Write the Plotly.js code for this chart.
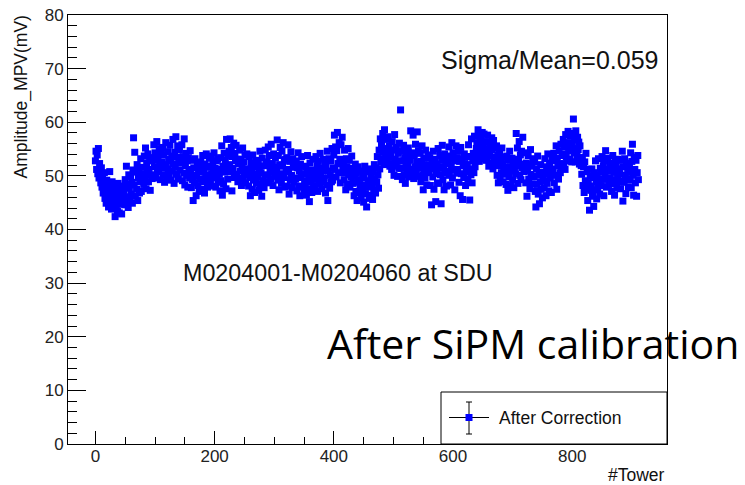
<!DOCTYPE html>
<html>
<head>
<meta charset="utf-8">
<script src="https://cdn.plot.ly/plotly-3.0.1.min.js"></script>
<style>html,body{margin:0;padding:0;background:#fff;}#chart{width:745px;height:485px;}</style>
</head>
<body>
<div id="chart"></div>
<script>
// Amplitude MPV (mV) per tower, tower index = position in array (0..911)
const amplitudeMPV = [
52.8,54.6,51.2,53.9,50.4,55.1,49.6,52.3,50.9,48.7,51.5,47.9,49.8,46.8,48.2,50.6,
45.8,47.6,44.9,49.2,46.3,48.4,44.2,46.9,50.8,45.1,47.3,43.8,48.9,46.1,44.6,47.8,
45.2,42.4,47.1,44.3,46.8,43.5,48.6,45.9,43.1,47.7,44.8,46.2,42.9,48.1,45.4,46.9,
47.2,44.6,49.3,46.1,51.8,45.3,48.4,44.1,50.2,47.7,45.8,49.9,46.6,48.8,44.9,51.1,
57.1,48.3,54.4,46.2,50.7,47.5,52.1,45.4,49.6,51.3,46.8,48.9,53.2,47.1,50.4,49.2,
51.6,48.4,53.7,49.9,55.2,47.6,52.4,50.8,54.1,48.9,51.2,53.3,47.3,50.1,52.8,49.5,
53.4,50.2,55.8,51.7,54.3,49.6,52.9,56.4,51.1,53.8,50.7,55.1,52.2,49.3,54.6,51.9,
52.6,55.3,50.1,53.9,48.8,51.4,56.2,52.1,49.7,54.5,51.3,53.1,50.4,55.7,52.8,49.2,
53.7,50.9,56.8,52.2,48.6,54.4,51.6,57.3,50.3,53.5,55.6,49.4,52.7,54.9,51.1,53.2,
52.4,55.8,49.1,53.6,50.5,56.9,48.3,51.9,54.2,50.1,52.8,47.9,53.4,51.2,49.6,54.7,
50.6,47.8,52.9,49.3,45.4,51.5,48.7,53.2,50.1,46.3,49.9,52.1,48.2,50.8,47.1,51.7,
49.4,52.6,47.5,51.3,53.8,48.9,50.7,46.8,52.2,49.8,54.1,50.2,47.9,51.6,49.1,53.3,
51.8,49.2,53.7,50.4,48.1,52.5,50.9,54.3,49.6,51.4,47.9,52.8,50.1,53.1,48.8,51.2,
50.3,47.2,53.4,49.1,55.6,46.4,51.8,48.5,54.2,50.7,52.9,47.6,56.8,51.1,49.4,53.7,
54.6,52.1,56.9,50.8,55.3,47.2,53.6,51.4,56.1,49.7,54.2,52.8,55.7,50.3,53.1,48.9,
52.3,49.6,54.8,50.9,53.1,48.2,51.7,55.2,49.4,52.6,50.2,53.9,48.7,51.3,54.1,50.5,
51.2,48.1,53.6,49.7,46.3,52.4,50.8,47.5,53.9,49.2,51.6,46.9,50.3,52.7,48.6,51.8,
49.8,52.9,47.3,51.1,54.6,48.4,50.6,46.2,53.3,49.1,51.9,47.8,50.2,54.8,48.9,52.4,
52.6,50.1,55.4,48.7,53.8,51.2,49.5,55.9,50.8,52.3,48.2,54.1,51.6,49.9,53.4,50.6,
51.3,56.7,49.2,53.8,47.4,52.1,55.3,50.4,48.6,54.6,51.8,56.2,49.7,52.9,47.9,53.1,
50.7,53.4,48.1,55.8,51.2,46.6,52.7,49.3,54.5,50.1,47.8,53.2,51.6,48.9,52.3,49.6,
49.4,52.8,47.2,51.5,54.3,48.1,50.9,46.3,52.2,49.7,53.6,47.9,50.4,51.8,46.8,49.1,
48.3,51.7,46.4,50.6,53.8,47.5,49.9,45.2,52.4,48.8,51.1,46.9,50.2,53.1,47.7,49.5,
50.8,48.2,53.6,49.4,51.9,47.1,52.7,50.3,48.6,54.2,49.8,51.4,47.6,50.9,53.1,48.9,
49.6,52.4,46.8,51.7,48.3,54.6,45.4,50.9,53.2,47.7,50.1,52.8,48.9,55.1,49.2,51.5,
53.9,57.6,51.2,55.4,49.8,54.7,58.1,52.3,50.6,56.2,53.1,48.7,55.8,52.6,57.2,51.4,
52.1,49.3,54.8,50.6,47.4,53.2,51.7,48.5,55.1,50.2,52.9,47.9,51.3,49.8,53.7,50.4,
48.6,51.4,46.3,49.9,52.2,47.1,50.5,45.4,48.8,51.7,46.9,49.3,47.8,50.9,45.9,48.2,
47.4,50.2,45.1,49.6,51.8,46.7,48.3,44.2,50.8,47.9,49.1,45.8,51.3,48.6,46.4,49.8,
48.2,45.6,50.7,47.3,52.1,49.4,46.8,51.5,48.9,53.6,50.2,47.7,54.8,51.3,56.9,52.6,
55.8,53.2,57.9,54.4,52.1,58.6,55.1,53.7,56.8,52.9,54.9,57.3,53.5,55.6,51.8,54.2,
53.6,51.2,56.4,52.3,54.8,50.1,57.7,53.1,51.8,55.3,52.7,49.9,54.2,51.4,56.1,52.8,
62.3,51.4,54.6,49.3,52.8,55.7,50.2,53.4,48.6,51.9,54.1,50.7,52.4,55.2,49.8,53.1,
52.9,58.4,50.6,54.3,51.2,57.6,49.5,53.8,51.7,55.9,50.3,52.6,58.2,51.4,54.7,49.9,
51.8,54.2,48.9,52.7,55.6,50.1,47.4,53.3,51.2,49.6,54.8,52.1,48.3,50.7,53.9,51.5,
50.6,53.4,48.2,51.9,44.6,52.7,49.8,54.6,47.5,51.3,53.1,45.2,50.4,52.2,48.7,55.1,
51.4,48.6,53.8,50.2,44.8,52.9,55.7,49.3,51.7,47.4,54.1,50.6,52.3,48.1,53.5,50.9,
52.6,55.4,50.1,53.7,48.3,51.9,56.2,49.6,54.3,51.2,53.1,47.4,52.8,55.6,50.5,53.4,
51.2,54.6,48.8,52.7,46.3,55.3,50.4,53.2,45.6,51.9,49.7,54.1,52.3,48.2,50.8,53.6,
52.1,49.4,55.8,51.3,45.5,53.6,50.2,56.9,48.7,52.8,54.2,50.6,57.4,51.7,53.3,55.1,
56.2,54.1,58.6,55.3,52.7,57.4,54.8,56.9,53.2,58.1,55.7,53.9,57.8,54.5,56.4,52.9,
55.1,53.2,57.6,54.4,51.8,56.3,53.7,55.8,52.4,57.1,54.9,51.3,56.6,53.5,55.2,52.7,
52.4,55.6,50.1,53.8,48.7,51.9,54.7,49.8,53.1,50.6,55.2,52.3,48.9,51.6,53.5,50.3,
51.2,48.4,53.7,50.6,47.3,52.9,49.8,54.6,51.7,48.1,50.9,53.3,49.2,52.1,47.8,51.5,
53.1,50.4,57.9,51.8,55.2,48.6,52.7,56.4,50.1,53.9,49.3,54.6,51.5,57.2,52.2,50.8,
51.6,54.3,48.7,52.4,46.2,50.9,53.8,49.4,52.1,47.6,54.9,50.3,51.8,48.5,53.2,49.9,
49.8,52.6,47.1,44.2,51.3,48.4,53.7,46.6,50.2,44.8,48.9,52.1,47.5,50.7,45.9,49.3,
50.4,47.8,53.2,49.1,46.3,51.7,48.6,54.1,50.8,47.2,52.4,49.6,51.1,46.9,53.6,50.2,
51.3,54.2,48.7,52.8,50.1,55.6,47.5,53.3,51.9,49.4,54.7,52.2,50.6,55.9,51.4,53.8,
54.1,56.8,52.3,55.4,51.2,57.7,53.6,55.9,52.8,58.3,54.7,56.2,53.1,57.4,55.3,52.6,
55.8,57.9,60.6,54.3,56.7,52.6,58.4,55.1,53.7,57.2,54.9,56.3,52.2,55.6,53.4,51.9,
50.3,53.4,48.2,51.7,46.9,52.6,49.1,54.2,47.6,50.8,45.4,48.7,51.2,43.6,49.9,47.3,
48.1,51.3,46.2,49.7,44.3,50.6,47.4,52.8,48.9,45.7,50.1,47.8,53.2,49.2,46.6,51.4,
50.7,48.2,53.6,49.4,51.9,46.3,52.8,50.1,54.7,47.9,51.2,49.6,53.3,48.4,50.9,52.2,
49.6,52.3,47.1,51.4,53.8,48.5,50.7,46.4,52.6,49.2,51.8,47.7,50.2,53.1,48.9,51.3,
50.4,47.6,52.9,49.1,54.6,45.3,51.7,48.8,53.2,50.1,46.7,52.4,49.5,51.2,47.9,50.8,
51.6,49.2,54.3,47.8,52.7,55.9,50.1,46.4,53.5,51.2,48.7,52.9,46.2,50.6,53.8,49.3
];
const towerIds = amplitudeMPV.map((_, i) => i);

const xTickValues = [0, 200, 400, 600, 800];
const yTickValues = [0, 10, 20, 30, 40, 50, 60, 70, 80];

const seriesName = "After Correction";
const xTitle = "#Tower";
const yTitle = "Amplitude_MPV(mV)";
const statText = "Sigma/Mean=0.059";
const rangeText = "M0204001-M0204060 at SDU";
const overlayText = "After SiPM calibration";

// plot area in pixels
const L = 68, R = 667, T = 15, B = 444;
const px = x => (x - L) / (R - L);
const py = y => (B - y) / (B - T);

const FONT = "Liberation Sans, Arial, sans-serif";
const BLUE = "#0000ff";

const trace = {
  x: towerIds, y: amplitudeMPV, type: "scatter", mode: "markers", name: seriesName,
  marker: {symbol: "square", size: 7, color: BLUE, line: {width: 0}},
  showlegend: false, cliponaxis: true
};

const layout = {
  width: 745, height: 485,
  margin: {l: L, r: 745 - R, t: T, b: 485 - B, pad: 0},
  paper_bgcolor: "#fff", plot_bgcolor: "#fff",
  showlegend: false,
  xaxis: {
    range: [-46, 959], tickvals: xTickValues, ticktext: xTickValues.map(String),
    ticks: "inside", ticklen: 13, tickcolor: "#000", tickwidth: 1, ticklabelstandoff: -3,
    minor: {ticks: "inside", ticklen: 7, dtick: 50, tick0: 0, tickcolor: "#000", showgrid: false},
    showgrid: false, zeroline: false, showline: true, mirror: true, linecolor: "#000", linewidth: 1,
    tickfont: {family: FONT, size: 17, color: "#222"}
  },
  yaxis: {
    range: [0, 80], tickvals: yTickValues, ticktext: yTickValues.map(String),
    ticks: "inside", ticklen: 18, tickcolor: "#000", tickwidth: 1,
    minor: {ticks: "inside", ticklen: 9, dtick: 2, tick0: 0, tickcolor: "#000", showgrid: false},
    showgrid: false, zeroline: false, showline: true, mirror: true, linecolor: "#000", linewidth: 1,
    tickfont: {family: FONT, size: 17, color: "#222"}
  },
  shapes: [
    {type: "rect", xref: "paper", yref: "paper", x0: px(441), x1: px(667), y0: py(444), y1: py(392),
     line: {color: "#000", width: 1}, fillcolor: "#fff", layer: "above"},
    {type: "line", xref: "paper", yref: "paper", x0: px(449), x1: px(489), y0: py(417.5), y1: py(417.5),
     line: {color: "#000", width: 1}},
    {type: "line", xref: "paper", yref: "paper", x0: px(469), x1: px(469), y0: py(402), y1: py(434),
     line: {color: "#000", width: 1}},
    {type: "line", xref: "paper", yref: "paper", x0: px(466), x1: px(472), y0: py(402), y1: py(402),
     line: {color: "#000", width: 1}},
    {type: "line", xref: "paper", yref: "paper", x0: px(466), x1: px(472), y0: py(434), y1: py(434),
     line: {color: "#000", width: 1}},
    {type: "rect", xref: "paper", yref: "paper", x0: px(465.5), x1: px(472.5), y0: py(421), y1: py(414),
     line: {width: 0}, fillcolor: BLUE}
  ],
  annotations: [
    {text: seriesName, xref: "paper", yref: "paper", x: px(497), y: py(418), xanchor: "left", yanchor: "middle",
     showarrow: false, font: {family: FONT, size: 17.5, color: "#111"}},
    {text: statText, xref: "paper", yref: "paper", x: px(550), y: py(60), xanchor: "center", yanchor: "middle",
     showarrow: false, font: {family: FONT, size: 25, color: "#111"}},
    {text: rangeText, xref: "paper", yref: "paper", x: px(337.5), y: py(273), xanchor: "center", yanchor: "middle",
     showarrow: false, font: {family: FONT, size: 23.3, color: "#111"}},
    {text: overlayText, xref: "paper", yref: "paper", x: px(532.5), y: py(343), xanchor: "center", yanchor: "middle",
     showarrow: false, font: {family: "Open Sans, Lato, sans-serif", size: 41, color: "#000"}},
    {text: xTitle, xref: "paper", yref: "paper", x: px(667), y: py(475), xanchor: "right", yanchor: "middle",
     showarrow: false, font: {family: FONT, size: 17.5, color: "#111"}},
    {text: yTitle, xref: "paper", yref: "paper", x: px(21.5), y: py(97), xanchor: "center", yanchor: "middle",
     textangle: -90, showarrow: false, font: {family: FONT, size: 17.5, color: "#111"}}
  ]
};

Plotly.newPlot("chart", [trace], layout, {staticPlot: true, displayModeBar: false});
</script>
</body>
</html>
